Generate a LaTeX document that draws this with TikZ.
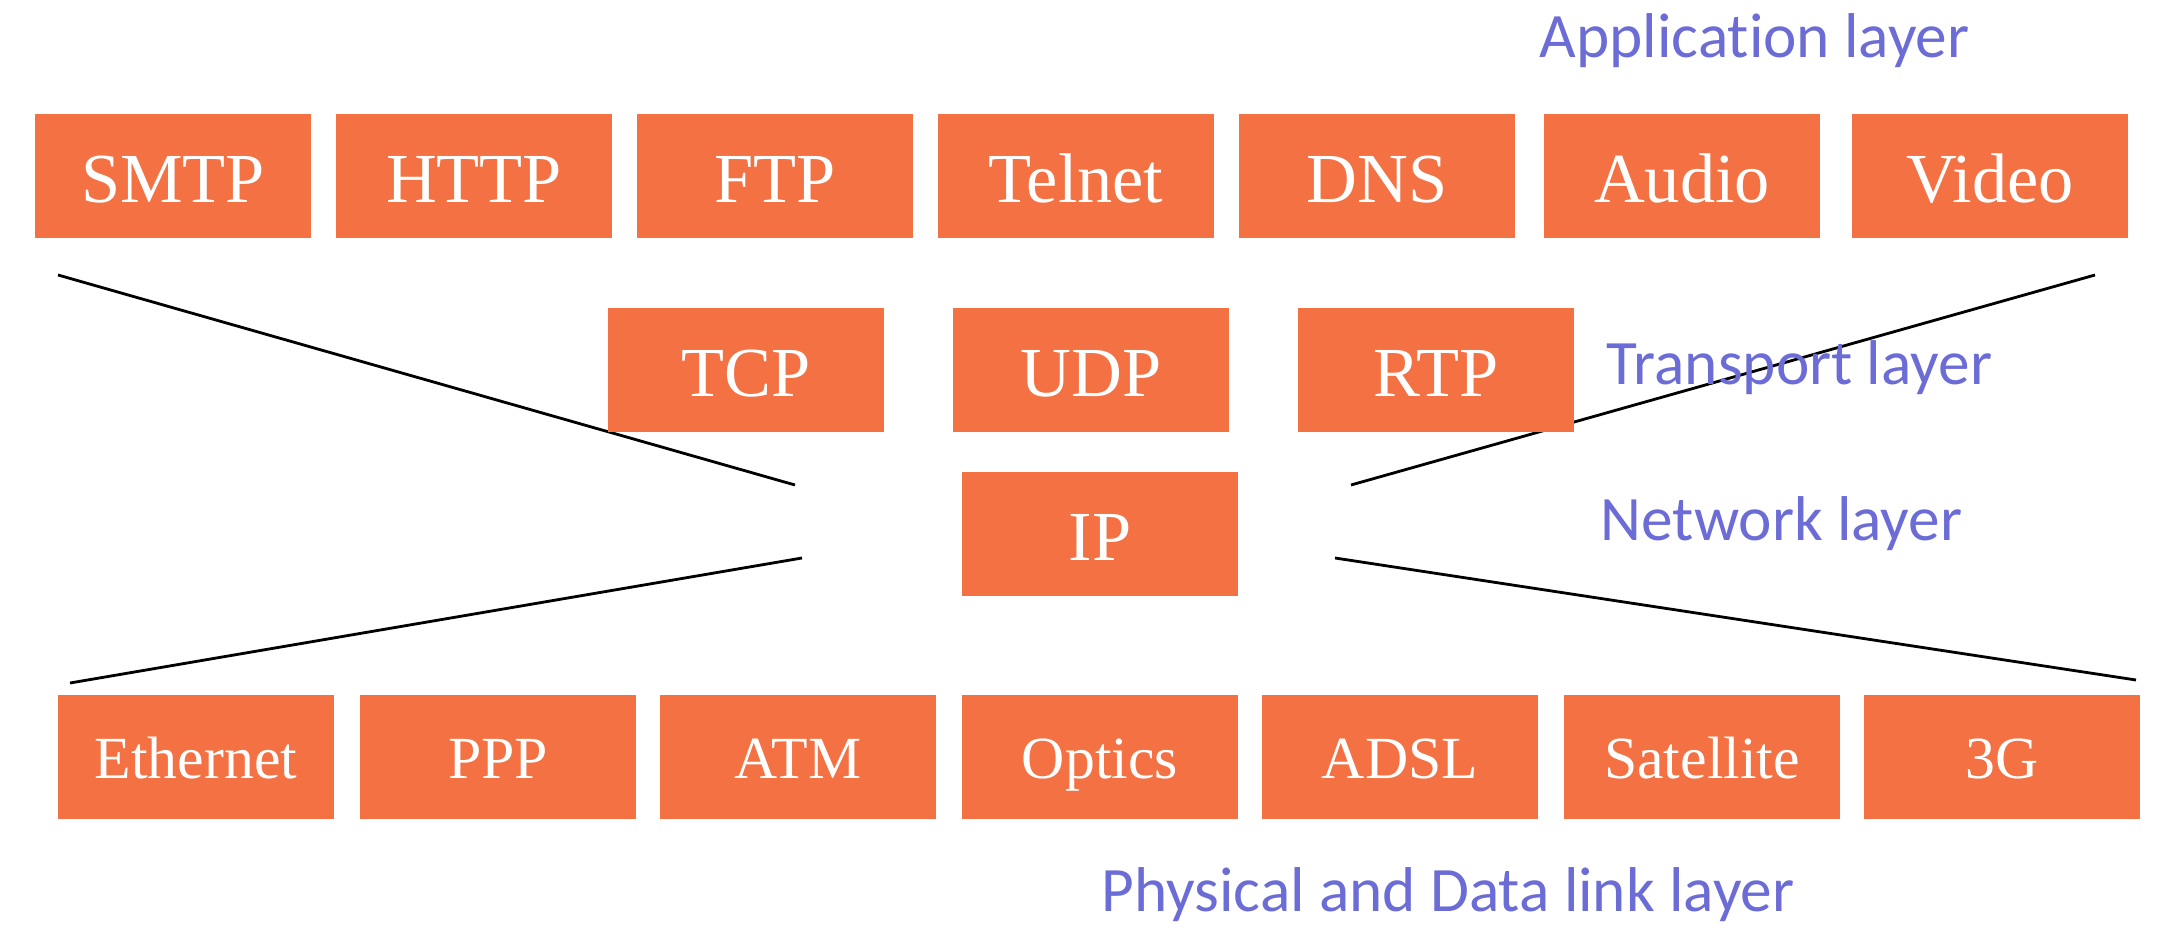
\documentclass[tikz,border=0pt]{standalone}
\usepackage{fontspec}
\setmainfont{Liberation Serif}
\newfontfamily\layerfont[Ligatures=NoCommon]{Carlito}
\usepackage{xcolor}
\usepackage{tikz}

\definecolor{boxorange}{RGB}{243,113,66}
\definecolor{layerblue}{RGB}{108,108,214}

\begin{document}
\begin{tikzpicture}[x=0.01cm, y=-0.01cm,
        box/.style={rectangle, fill=boxorange, text=white, inner sep=0pt,
        minimum width=2.75cm, minimum height=1.24cm, text height=0.52cm, text depth=0cm,
        font=\fontsize{20}{24}\selectfont},
        linkbox/.style={box, text height=0.43cm, text depth=0cm, font=\fontsize{17}{20}\selectfont},
        layer/.style={anchor=base west, inner sep=0pt, text=layerblue,
        font=\layerfont\fontsize{18}{22}\selectfont}]
        \useasboundingbox (0,0) rectangle (2180,934);

        \coordinate (tl) at (58,275);
        \coordinate (tm) at (795,485);
        \coordinate (tr) at (2095,275);
        \coordinate (tn) at (1351,485);
        \coordinate (bl) at (70,683);
        \coordinate (bm) at (802,558);
        \coordinate (br) at (2136,680);
        \coordinate (bn) at (1335,558);

        \draw[line width=0.8pt] (tl) -- (tm);
        \draw[line width=0.8pt] (tr) -- (tn);
        \draw[line width=0.8pt] (bl) -- (bm);
        \draw[line width=0.8pt] (br) -- (bn);

        \node[box] (smtp) at (173,176) {SMTP};
        \node[box] (http) at (474,176) {HTTP};
        \node[box] (ftp) at (775,176) {FTP};
        \node[box] (telnet) at (1076,176) {Telnet};
        \node[box] (dns) at (1377,176) {DNS};
        \node[box] (audio) at (1682,176) {Audio};
        \node[box] (video) at (1990,176) {Video};

        \node[box] (tcp) at (746,370) {TCP};
        \node[box] (udp) at (1091,370) {UDP};
        \node[box] (rtp) at (1436,370) {RTP};

        \node[box] (ip) at (1100,534) {IP};

        \node[linkbox] (eth) at (196,757) {Ethernet};
        \node[linkbox] (ppp) at (498,757) {PPP};
        \node[linkbox] (atm) at (798,757) {ATM};
        \node[linkbox] (optics) at (1100,757) {Optics};
        \node[linkbox] (adsl) at (1400,757) {ADSL};
        \node[linkbox] (sat) at (1702,757) {Satellite};
        \node[linkbox] (g3) at (2002,757) {3G};

        \node[layer] (app) at (1539,58) {Application layer};
        \node[layer] (trans) at (1606,385) {Transport layer};
        \node[layer] (net) at (1600,541) {Network layer};
        \node[layer] (phys) at (1101,911) {Physical and Data link layer};
    \end{tikzpicture}
\end{document}
